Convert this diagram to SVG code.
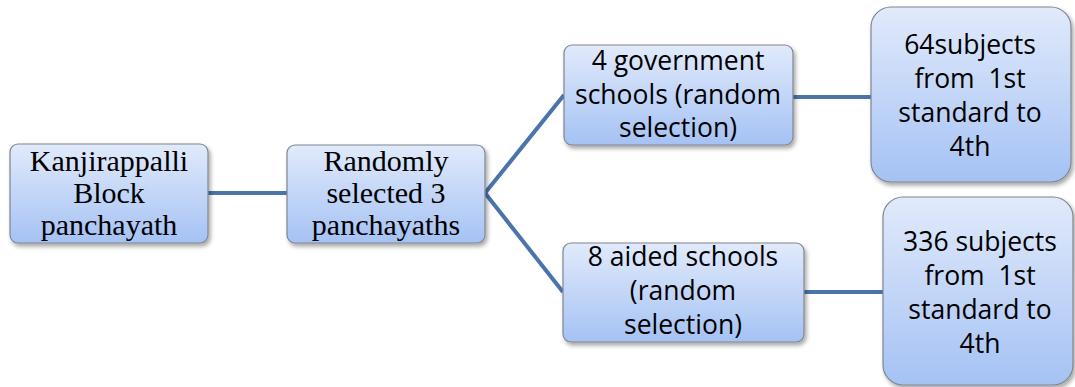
<svg xmlns="http://www.w3.org/2000/svg" width="1075" height="387" viewBox="0 0 1075 387">
<defs>
<linearGradient id="g" x1="0" y1="0" x2="0" y2="1">
<stop offset="0" stop-color="#e1eafb"/>
<stop offset="1" stop-color="#a5c2f4"/>
</linearGradient>
<filter id="sh" x="-10%" y="-10%" width="130%" height="130%">
<feDropShadow dx="2" dy="3" stdDeviation="2" flood-color="#000" flood-opacity="0.35"/>
</filter>
<style>
.box{fill:url(#g);stroke:#7f8690;stroke-width:1.2;filter:url(#sh)}
.serif{font-family:"Liberation Serif","Times New Roman",serif;font-size:30px;fill:#000;text-anchor:middle}
.sans{font-family:"Open Sans","Liberation Sans",sans-serif;font-size:26.5px;fill:#000;text-anchor:middle}
.conn{stroke:#4a74aa;stroke-width:4;fill:none}
</style>
</defs>
<g id="connectors">
<line class="conn" x1="208" y1="193" x2="288" y2="193"/>
<polyline class="conn" points="564,95 485,193 563,292"/>
<line class="conn" x1="793" y1="97" x2="872" y2="97"/>
<line class="conn" x1="804" y1="292" x2="884" y2="292"/>
</g>
<g id="n1">
<rect class="box" x="10" y="144" width="198" height="99" rx="8"/>
<text class="serif"><tspan x="109" y="171">Kanjirappalli</tspan><tspan x="109" y="203">Block</tspan><tspan x="109" y="235">panchayath</tspan></text>
</g>
<g id="n2">
<rect class="box" x="287" y="145" width="198" height="98" rx="8"/>
<text class="serif"><tspan x="386" y="171">Randomly</tspan><tspan x="386" y="203">selected 3</tspan><tspan x="386" y="235">panchayaths</tspan></text>
</g>
<g id="n3">
<rect class="box" x="564" y="45" width="229" height="100" rx="8"/>
<text class="sans"><tspan x="678" y="70">4 government</tspan><tspan x="678" y="104">schools (random</tspan><tspan x="678" y="137">selection)</tspan></text>
</g>
<g id="n4">
<rect class="box" x="871" y="7" width="200" height="175" rx="20"/>
<text class="sans" xml:space="preserve"><tspan x="970" y="54">64subjects</tspan><tspan x="970" y="88">from  1st</tspan><tspan x="970" y="122">standard to</tspan><tspan x="970" y="156">4th</tspan></text>
</g>
<g id="n5">
<rect class="box" x="563" y="243" width="241" height="99" rx="8"/>
<text class="sans"><tspan x="683" y="266">8 aided schools</tspan><tspan x="683" y="300">(random</tspan><tspan x="683" y="334">selection)</tspan></text>
</g>
<g id="n6">
<rect class="box" x="883" y="197" width="190" height="188" rx="20"/>
<text class="sans" xml:space="preserve"><tspan x="980" y="251">336 subjects</tspan><tspan x="980" y="285">from  1st</tspan><tspan x="980" y="319">standard to</tspan><tspan x="980" y="353">4th</tspan></text>
</g>
</svg>
